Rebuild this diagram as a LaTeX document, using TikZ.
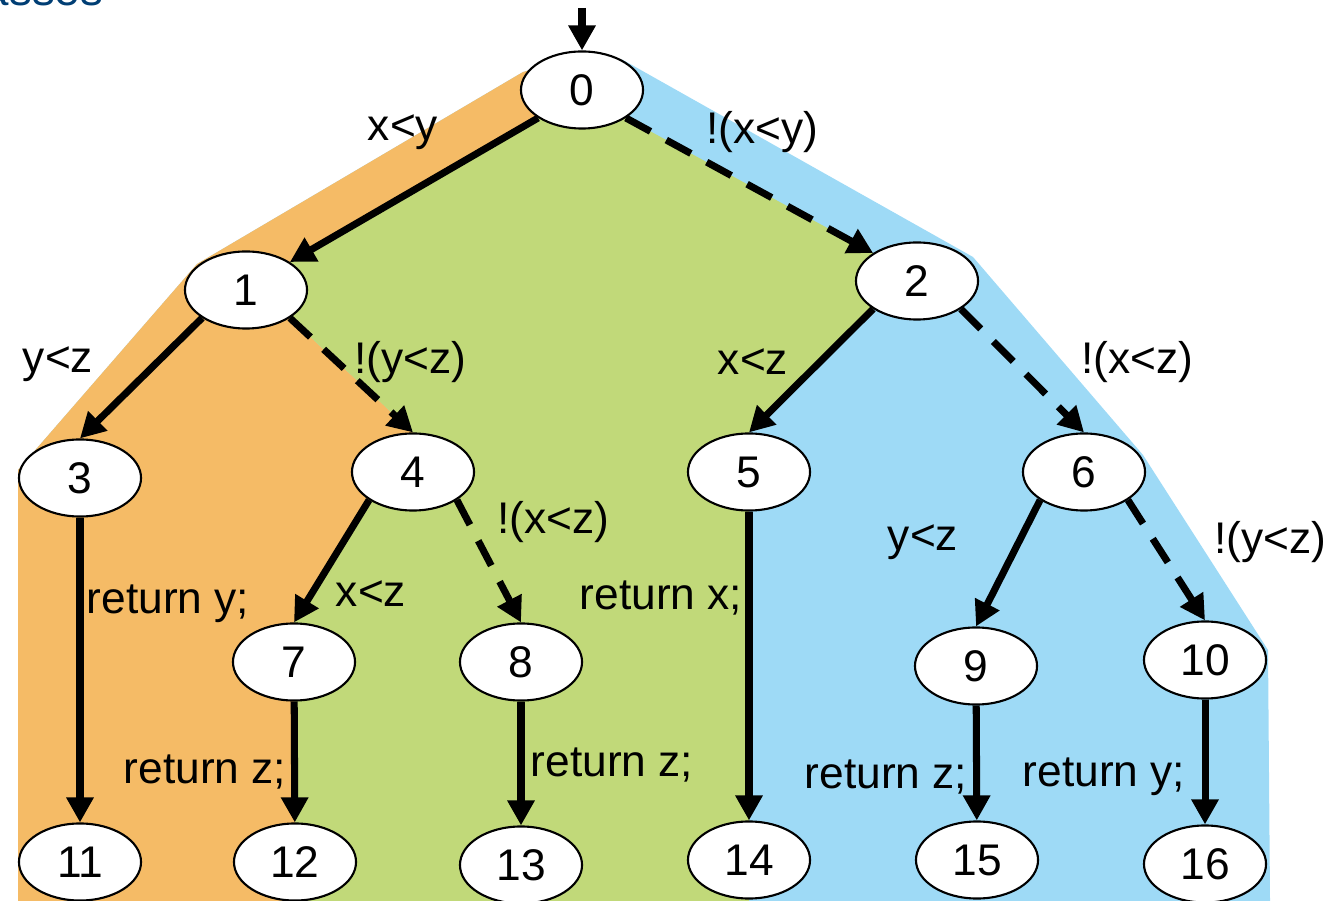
\documentclass[tikz,border=0pt]{standalone}
\usepackage{fontspec}
\setmainfont{Liberation Sans}
\usetikzlibrary{shapes.geometric,arrows.meta,backgrounds}
\definecolor{orng}{RGB}{245,187,102}
\definecolor{grn}{RGB}{193,217,121}
\definecolor{blu}{RGB}{158,218,246}
\definecolor{headblue}{RGB}{0,62,116}
\tikzset{
	state/.style={ellipse,draw,line width=0.6pt,fill=white,minimum width=1.22cm,minimum height=0.77cm,inner sep=0pt,font=\fontsize{12.6}{14}\selectfont},
	edge/.style={line width=2pt,-{Triangle[length=0.25cm,width=0.26cm]}},
	neg/.style={edge,dash pattern=on 0.28cm off 0.18cm},
	lbl/.style={inner sep=0pt,font=\fontsize{12.6}{14}\selectfont}
}
\begin{document}
\begin{tikzpicture}[x=0.01cm,y=-0.01cm]
	\useasboundingbox (0,0) rectangle (1334,901);
	% heading, mostly above the page
	\node[anchor=base east,inner sep=0pt,text=headblue,font=\fontsize{13}{15}\selectfont] (head) at (104,6) {Classes};
	% states
	\node[state] (n0) at (582,90) {0};
	\node[state] (n1) at (246,290) {1};
	\node[state] (n2) at (917,281) {2};
	\node[state] (n3) at (80,478) {3};
	\node[state] (n4) at (413,472) {4};
	\node[state] (n5) at (749,472) {5};
	\node[state] (n6) at (1084,472) {6};
	\node[state] (n7) at (294,662) {7};
	\node[state] (n8) at (521,662) {8};
	\node[state] (n9) at (976,666) {9};
	\node[state] (n10) at (1205,660) {10};
	\node[state] (n11) at (80,862) {11};
	\node[state] (n12) at (295,862) {12};
	\node[state] (n13) at (521,865) {13};
	\node[state] (n14) at (749,860) {14};
	\node[state] (n15) at (977,860) {15};
	\node[state] (n16) at (1205,864) {16};
	% the three partitions, behind the tree
	\begin{scope}[on background layer]
		\fill[blu] (523,72) -- (560,62) -- (610,58) -- (623,60) -- (973,257) -- (1143,455) -- (1268,650) -- (1270,901) -- (18,901) -- (18,470) -- (197,264) -- cycle;
		\fill[orng] (n0.center) -- (n0.south west) -- (n1.north east) -- (n1.south east) -- (n4.north) -- (n4.south west) -- (n7.north) -- (n12.north) -- (296,901) -- (18,901) -- (18,470) -- (197,264) -- (523,72) -- (560,62) -- cycle;
		\fill[grn] (n0.center) -- (n0.south west) -- (n1.north east) -- (n1.south east) -- (n4.north) -- (n4.south west) -- (n7.north) -- (n12.north) -- (296,901) -- (749,901) -- (n14.north) -- (n5.north) -- (n2.south west) -- (n2.north west) -- (n0.south east) -- cycle;
	\end{scope}
	% branches
	\coordinate (start) at (582,8);
	\draw[edge] (start) -- (n0);
	\draw[edge] (n0.south west) -- (n1.north east);
	\draw[neg] (n0.south east) -- (n2.north west);
	\draw[edge] (n1.south west) -- (n3.north);
	\draw[neg] (n1.south east) -- (n4.north);
	\draw[edge] (n2.south west) -- (n5.north);
	\draw[neg] (n2.south east) -- (n6.north);
	\draw[edge] (n4.south west) -- (n7.north);
	\draw[neg] (n4.south east) -- (n8.north);
	\draw[edge] (n6.south west) -- (n9.north);
	\draw[neg] (n6.south east) -- (n10.north);
	\draw[edge] (n3) -- (n11);
	\draw[edge] (n7) -- (n12);
	\draw[edge] (n8) -- (n13);
	\draw[edge] (n5) -- (n14);
	\draw[edge] (n9) -- (n15);
	\draw[edge] (n10) -- (n16);
	% conditions
	\node[lbl] (c01) at (403,132) {x<y};
	\node[lbl] (c02) at (762,132) {!(x<y)};
	\node[lbl] (c13) at (58,364) {y<z};
	\node[lbl] (c14) at (410,362) {!(y<z)};
	\node[lbl] (c25) at (753,362) {x<z};
	\node[lbl] (c26) at (1137,362) {!(x<z)};
	\node[lbl] (c48) at (553,522) {!(x<z)};
	\node[lbl] (c47) at (371,594) {x<z};
	\node[lbl] (c69) at (923,542) {y<z};
	\node[lbl] (c610) at (1270,542) {!(y<z)};
	% return statements
	\node[lbl] (r3) at (168,604) {return y;};
	\node[lbl] (r5) at (661,598) {return x;};
	\node[lbl] (r7) at (205,772) {return z;};
	\node[lbl] (r8) at (612,765) {return z;};
	\node[lbl] (r9) at (886,777) {return z;};
	\node[lbl] (r10) at (1104,777) {return y;};
\end{tikzpicture}
\end{document}
